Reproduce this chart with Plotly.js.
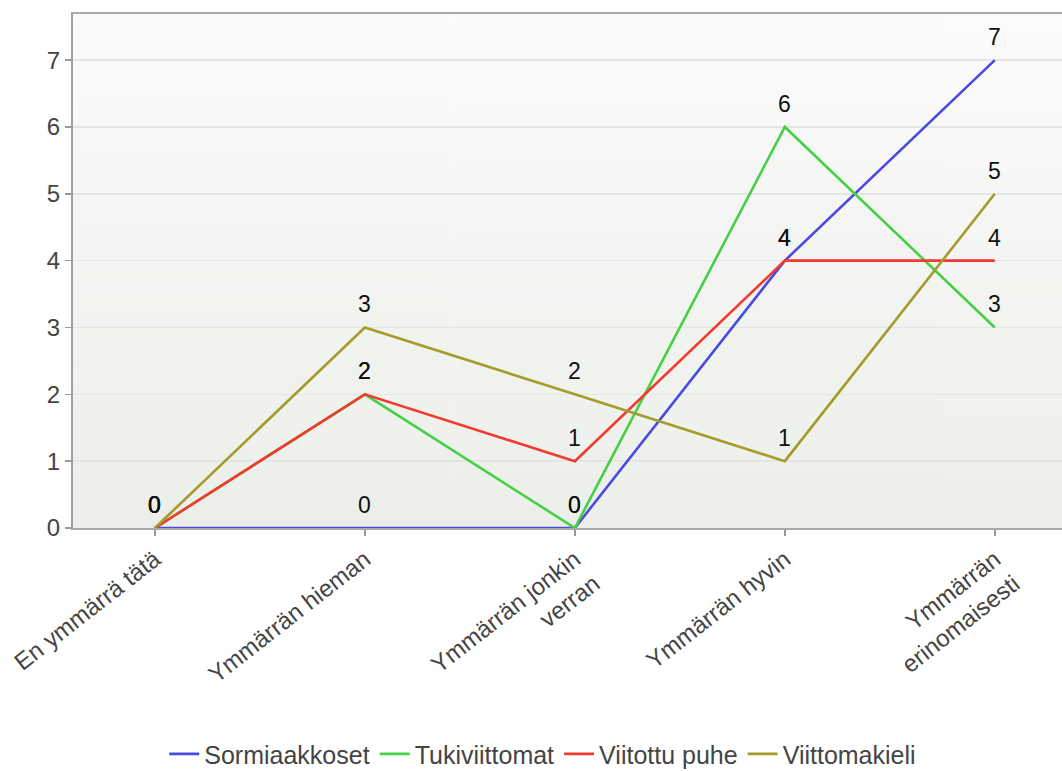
<!DOCTYPE html>
<html>
<head>
<meta charset="utf-8">
<script src="https://cdn.plot.ly/plotly-3.0.1.min.js"></script>
<style>
  html, body { margin: 0; padding: 0; background: #ffffff; }
  #chart { width: 1062px; height: 771px; }
</style>
</head>
<body>
<div id="chart"></div>
<script>
// Response categories (x axis)
const categories = [
  "En ymmärrä tätä",
  "Ymmärrän hieman",
  "Ymmärrän jonkin<br>verran",
  "Ymmärrän hyvin",
  "Ymmärrän<br>erinomaisesti"
];

// Counts per communication method
const sormiaakkoset = [0, 0, 0, 4, 7];
const tukiviittomat = [0, 2, 0, 6, 3];
const viitottuPuhe  = [0, 2, 1, 4, 4];
const viittomakieli = [0, 3, 2, 1, 5];

const seriesNames = ["Sormiaakkoset", "Tukiviittomat", "Viitottu puhe", "Viittomakieli"];
const seriesValues = [sormiaakkoset, tukiviittomat, viitottuPuhe, viittomakieli];
const seriesColors = ["#4a4ade", "#46d046", "#f23a30", "#a39c2a"];

const xIdx = categories.map((_, i) => i);
const fontFamily = "Liberation Sans, Arial, sans-serif";

const traces = seriesValues.map((vals, k) => ({
  type: "scatter",
  mode: "lines",
  name: seriesNames[k],
  x: xIdx,
  y: vals,
  line: { color: seriesColors[k], width: 2.6 },
  cliponaxis: false,
  hoverinfo: "skip"
}));

// Value labels above every point
const valueLabels = [];
seriesValues.forEach(vals => {
  vals.forEach((v, i) => {
    valueLabels.push({
      x: xIdx[i], y: v,
      xref: "x", yref: "y",
      text: String(v),
      showarrow: false,
      yanchor: "middle",
      yshift: 23,
      font: { family: fontFamily, size: 23, color: "#111111" }
    });
  });
});

// Soft vertical gradient for the plotting area
function gradientImage() {
  const c = document.createElement("canvas");
  c.width = 4; c.height = 256;
  const g = c.getContext("2d");
  const grd = g.createLinearGradient(0, 0, 0, 256);
  grd.addColorStop(0, "#fbfbfb");
  grd.addColorStop(1, "#ecefe9");
  g.fillStyle = grd;
  g.fillRect(0, 0, 4, 256);
  return c.toDataURL();
}

const tickFont = { family: fontFamily, size: 24, color: "#444444" };

const layout = {
  width: 1062,
  height: 771,
  margin: { l: 73, r: 0, t: 14, b: 243, autoexpand: false },
  paper_bgcolor: "#ffffff",
  plot_bgcolor: "rgba(0,0,0,0)",
  showlegend: true,
  legend: {
    orientation: "h",
    x: 0.475, xanchor: "center",
    y: -0.44, yanchor: "middle",
    font: { family: fontFamily, size: 25, color: "#444444" },
    itemwidth: 30,
    tracegroupgap: 0
  },
  annotations: valueLabels,
  xaxis: {
    type: "linear",
    range: [-0.39, 4.32],
    tickmode: "array",
    tickvals: xIdx,
    ticktext: categories,
    tickangle: -38,
    tickfont: tickFont,
    ticks: "outside",
    ticklen: 6,
    tickwidth: 1.5,
    tickcolor: "#999999",
    showgrid: false,
    zeroline: false,
    showline: true,
    linecolor: "#a8a8a8",
    linewidth: 2,
    mirror: true,
    automargin: false,
    fixedrange: true
  },
  yaxis: {
    range: [0, 7.69],
    tickmode: "array",
    tickvals: [0, 1, 2, 3, 4, 5, 6, 7],
    tickfont: tickFont,
    ticks: "outside",
    ticklen: 6,
    tickwidth: 1.5,
    tickcolor: "#999999",
    showgrid: true,
    gridcolor: "#e3e6e3",
    gridwidth: 1.5,
    zeroline: false,
    showline: true,
    linecolor: "#a0a0a0",
    linewidth: 2,
    automargin: false,
    fixedrange: true
  },
  images: [{
    source: gradientImage(),
    xref: "paper", yref: "paper",
    x: 0, y: 1, sizex: 1, sizey: 1,
    sizing: "stretch",
    layer: "below"
  }]
};

Plotly.newPlot("chart", traces, layout, { displayModeBar: false, staticPlot: true });
</script>
</body>
</html>
